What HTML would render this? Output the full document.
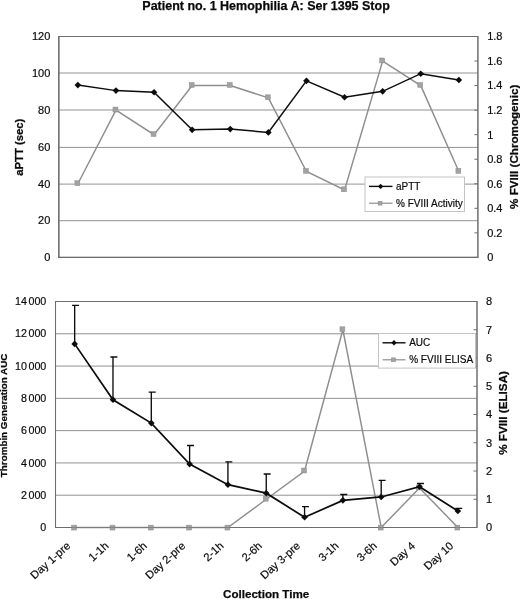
<!DOCTYPE html>
<html lang="en"><head><meta charset="utf-8"><title>Patient no. 1 Hemophilia A: Ser 1395 Stop</title>
<style>
html,body{margin:0;padding:0;background:#fff;}
body{width:520px;height:599px;overflow:hidden;font-family:"Liberation Sans",Arial,Helvetica,sans-serif;}
svg{display:block;}
</style></head><body>
<svg width="520" height="599" viewBox="0 0 520 599">
<rect width="520" height="599" fill="#fff"/>
<g>
<line x1="58.0" y1="257.40" x2="477.9" y2="257.40" stroke="#929292" stroke-width="1"/>
<line x1="58.0" y1="220.70" x2="477.9" y2="220.70" stroke="#929292" stroke-width="1"/>
<line x1="58.0" y1="184.10" x2="477.9" y2="184.10" stroke="#929292" stroke-width="1"/>
<line x1="58.0" y1="147.40" x2="477.9" y2="147.40" stroke="#929292" stroke-width="1"/>
<line x1="58.0" y1="110.00" x2="477.9" y2="110.00" stroke="#929292" stroke-width="1"/>
<line x1="58.0" y1="73.00" x2="477.9" y2="73.00" stroke="#929292" stroke-width="1"/>
<line x1="58.0" y1="36.50" x2="477.9" y2="36.50" stroke="#929292" stroke-width="1"/>
<line x1="58.8" y1="36.5" x2="477.9" y2="36.5" stroke="#6e6e6e" stroke-width="1.05"/>
<line x1="58.849999999999994" y1="36.0" x2="58.849999999999994" y2="257.9" stroke="#6e6e6e" stroke-width="1.6"/>
<line x1="477.9" y1="36.0" x2="477.9" y2="257.9" stroke="#6e6e6e" stroke-width="1.5"/>
<line x1="58.8" y1="257.4" x2="477.9" y2="257.4" stroke="#6e6e6e" stroke-width="1.15"/>
<line x1="474.4" y1="257.40" x2="477.9" y2="257.40" stroke="#6e6e6e" stroke-width="1"/>
<line x1="474.4" y1="232.86" x2="477.9" y2="232.86" stroke="#6e6e6e" stroke-width="1"/>
<line x1="474.4" y1="208.31" x2="477.9" y2="208.31" stroke="#6e6e6e" stroke-width="1"/>
<line x1="474.4" y1="183.77" x2="477.9" y2="183.77" stroke="#6e6e6e" stroke-width="1"/>
<line x1="474.4" y1="159.22" x2="477.9" y2="159.22" stroke="#6e6e6e" stroke-width="1"/>
<line x1="474.4" y1="134.68" x2="477.9" y2="134.68" stroke="#6e6e6e" stroke-width="1"/>
<line x1="474.4" y1="110.13" x2="477.9" y2="110.13" stroke="#6e6e6e" stroke-width="1"/>
<line x1="474.4" y1="85.59" x2="477.9" y2="85.59" stroke="#6e6e6e" stroke-width="1"/>
<line x1="474.4" y1="61.04" x2="477.9" y2="61.04" stroke="#6e6e6e" stroke-width="1"/>
<line x1="474.4" y1="36.50" x2="477.9" y2="36.50" stroke="#6e6e6e" stroke-width="1"/>
<polyline points="77.85,183.77 115.95,110.13 154.05,134.68 192.15,85.59 230.25,85.59 268.35,97.86 306.45,171.49 344.55,189.90 382.65,61.04 420.75,85.59 458.85,171.49" fill="none" stroke="#8e8e8e" stroke-width="1.45"/>
<rect x="74.90" y="180.72" width="4.9" height="4.9" fill="#a2a2a2" stroke="#8c8c8c" stroke-width="0.5"/>
<rect x="113.00" y="107.08" width="4.9" height="4.9" fill="#a2a2a2" stroke="#8c8c8c" stroke-width="0.5"/>
<rect x="151.10" y="131.63" width="4.9" height="4.9" fill="#a2a2a2" stroke="#8c8c8c" stroke-width="0.5"/>
<rect x="189.20" y="82.54" width="4.9" height="4.9" fill="#a2a2a2" stroke="#8c8c8c" stroke-width="0.5"/>
<rect x="227.30" y="82.54" width="4.9" height="4.9" fill="#a2a2a2" stroke="#8c8c8c" stroke-width="0.5"/>
<rect x="265.40" y="94.81" width="4.9" height="4.9" fill="#a2a2a2" stroke="#8c8c8c" stroke-width="0.5"/>
<rect x="303.50" y="168.44" width="4.9" height="4.9" fill="#a2a2a2" stroke="#8c8c8c" stroke-width="0.5"/>
<rect x="341.60" y="186.85" width="4.9" height="4.9" fill="#a2a2a2" stroke="#8c8c8c" stroke-width="0.5"/>
<rect x="379.70" y="57.99" width="4.9" height="4.9" fill="#a2a2a2" stroke="#8c8c8c" stroke-width="0.5"/>
<rect x="417.80" y="82.54" width="4.9" height="4.9" fill="#a2a2a2" stroke="#8c8c8c" stroke-width="0.5"/>
<rect x="455.90" y="168.44" width="4.9" height="4.9" fill="#a2a2a2" stroke="#8c8c8c" stroke-width="0.5"/>
<polyline points="77.85,85.10 115.95,90.62 154.05,92.28 192.15,129.83 230.25,129.09 268.35,132.41 306.45,80.86 344.55,97.25 382.65,91.36 420.75,73.68 458.85,79.94" fill="none" stroke="#0c0c0c" stroke-width="1.5"/>
<path d="M77.85 81.80L81.15 85.10L77.85 88.40L74.55 85.10Z" fill="#0c0c0c"/>
<path d="M115.95 87.32L119.25 90.62L115.95 93.92L112.65 90.62Z" fill="#0c0c0c"/>
<path d="M154.05 88.98L157.35 92.28L154.05 95.58L150.75 92.28Z" fill="#0c0c0c"/>
<path d="M192.15 126.53L195.45 129.83L192.15 133.13L188.85 129.83Z" fill="#0c0c0c"/>
<path d="M230.25 125.79L233.55 129.09L230.25 132.39L226.95 129.09Z" fill="#0c0c0c"/>
<path d="M268.35 129.11L271.65 132.41L268.35 135.71L265.05 132.41Z" fill="#0c0c0c"/>
<path d="M306.45 77.56L309.75 80.86L306.45 84.16L303.15 80.86Z" fill="#0c0c0c"/>
<path d="M344.55 93.95L347.85 97.25L344.55 100.55L341.25 97.25Z" fill="#0c0c0c"/>
<path d="M382.65 88.06L385.95 91.36L382.65 94.66L379.35 91.36Z" fill="#0c0c0c"/>
<path d="M420.75 70.38L424.05 73.68L420.75 76.98L417.45 73.68Z" fill="#0c0c0c"/>
<path d="M458.85 76.64L462.15 79.94L458.85 83.24L455.55 79.94Z" fill="#0c0c0c"/>
<rect x="365" y="177" width="99.5" height="34.5" fill="#fff" stroke="#c4c4c4" stroke-width="1"/>
<line x1="369" y1="186.4" x2="392.5" y2="186.4" stroke="#0c0c0c" stroke-width="1.4"/><path d="M380.60 183.70L383.30 186.40L380.60 189.10L377.90 186.40Z" fill="#0c0c0c"/>
<line x1="369" y1="203.2" x2="392.5" y2="203.2" stroke="#8e8e8e" stroke-width="1.2"/><rect x="378.15" y="201.25" width="3.9000000000000004" height="3.9000000000000004" fill="#a2a2a2" stroke="#8c8c8c" stroke-width="0.5"/>
<text x="396" y="190.0" font-family="Liberation Sans, Arial, Helvetica, sans-serif" font-size="10" fill="#0a0a0a" stroke="#0a0a0a" stroke-width="0.18">aPTT</text>
<text x="396" y="206.8" font-family="Liberation Sans, Arial, Helvetica, sans-serif" font-size="10" fill="#0a0a0a" stroke="#0a0a0a" stroke-width="0.18">% FVIII Activity</text>
<text x="50.3" y="261.30" text-anchor="end" font-family="Liberation Sans, Arial, Helvetica, sans-serif" font-size="11" fill="#0a0a0a" stroke="#0a0a0a" stroke-width="0.18">0</text>
<text x="50.3" y="224.48" text-anchor="end" font-family="Liberation Sans, Arial, Helvetica, sans-serif" font-size="11" fill="#0a0a0a" stroke="#0a0a0a" stroke-width="0.18">20</text>
<text x="50.3" y="187.67" text-anchor="end" font-family="Liberation Sans, Arial, Helvetica, sans-serif" font-size="11" fill="#0a0a0a" stroke="#0a0a0a" stroke-width="0.18">40</text>
<text x="50.3" y="150.85" text-anchor="end" font-family="Liberation Sans, Arial, Helvetica, sans-serif" font-size="11" fill="#0a0a0a" stroke="#0a0a0a" stroke-width="0.18">60</text>
<text x="50.3" y="114.03" text-anchor="end" font-family="Liberation Sans, Arial, Helvetica, sans-serif" font-size="11" fill="#0a0a0a" stroke="#0a0a0a" stroke-width="0.18">80</text>
<text x="50.3" y="77.22" text-anchor="end" font-family="Liberation Sans, Arial, Helvetica, sans-serif" font-size="11" fill="#0a0a0a" stroke="#0a0a0a" stroke-width="0.18">100</text>
<text x="50.3" y="40.40" text-anchor="end" font-family="Liberation Sans, Arial, Helvetica, sans-serif" font-size="11" fill="#0a0a0a" stroke="#0a0a0a" stroke-width="0.18">120</text>
<text x="487.2" y="261.30" font-family="Liberation Sans, Arial, Helvetica, sans-serif" font-size="11" fill="#0a0a0a" stroke="#0a0a0a" stroke-width="0.18">0</text>
<text x="487.2" y="236.76" font-family="Liberation Sans, Arial, Helvetica, sans-serif" font-size="11" fill="#0a0a0a" stroke="#0a0a0a" stroke-width="0.18">0.2</text>
<text x="487.2" y="212.21" font-family="Liberation Sans, Arial, Helvetica, sans-serif" font-size="11" fill="#0a0a0a" stroke="#0a0a0a" stroke-width="0.18">0.4</text>
<text x="487.2" y="187.67" font-family="Liberation Sans, Arial, Helvetica, sans-serif" font-size="11" fill="#0a0a0a" stroke="#0a0a0a" stroke-width="0.18">0.6</text>
<text x="487.2" y="163.12" font-family="Liberation Sans, Arial, Helvetica, sans-serif" font-size="11" fill="#0a0a0a" stroke="#0a0a0a" stroke-width="0.18">0.8</text>
<text x="487.2" y="138.58" font-family="Liberation Sans, Arial, Helvetica, sans-serif" font-size="11" fill="#0a0a0a" stroke="#0a0a0a" stroke-width="0.18">1</text>
<text x="487.2" y="114.03" font-family="Liberation Sans, Arial, Helvetica, sans-serif" font-size="11" fill="#0a0a0a" stroke="#0a0a0a" stroke-width="0.18">1.2</text>
<text x="487.2" y="89.49" font-family="Liberation Sans, Arial, Helvetica, sans-serif" font-size="11" fill="#0a0a0a" stroke="#0a0a0a" stroke-width="0.18">1.4</text>
<text x="487.2" y="64.94" font-family="Liberation Sans, Arial, Helvetica, sans-serif" font-size="11" fill="#0a0a0a" stroke="#0a0a0a" stroke-width="0.18">1.6</text>
<text x="487.2" y="40.40" font-family="Liberation Sans, Arial, Helvetica, sans-serif" font-size="11" fill="#0a0a0a" stroke="#0a0a0a" stroke-width="0.18">1.8</text>
<text transform="translate(23,147.2) rotate(-90)" text-anchor="middle" font-family="Liberation Sans, Arial, Helvetica, sans-serif" font-size="11.3" font-weight="bold" fill="#0a0a0a" stroke="#0a0a0a" stroke-width="0.25">aPTT (sec)</text>
<text transform="translate(517.6,146.8) rotate(-90)" text-anchor="middle" font-family="Liberation Sans, Arial, Helvetica, sans-serif" font-size="11.65" font-weight="bold" fill="#0a0a0a" stroke="#0a0a0a" stroke-width="0.25">% FVIII (Chromogenic)</text>
</g>
<text x="142.3" y="9.6" font-family="Liberation Sans, Arial, Helvetica, sans-serif" font-size="12.5" font-weight="bold" fill="#0a0a0a" stroke="#0a0a0a" stroke-width="0.25">Patient no. 1 Hemophilia A: Ser 1395 Stop</text>
<g>
<line x1="55.5" y1="527.50" x2="477.0" y2="527.50" stroke="#929292" stroke-width="1"/>
<line x1="55.5" y1="495.21" x2="477.0" y2="495.21" stroke="#929292" stroke-width="1"/>
<line x1="55.5" y1="462.93" x2="477.0" y2="462.93" stroke="#929292" stroke-width="1"/>
<line x1="55.5" y1="430.64" x2="477.0" y2="430.64" stroke="#929292" stroke-width="1"/>
<line x1="55.5" y1="398.36" x2="477.0" y2="398.36" stroke="#929292" stroke-width="1"/>
<line x1="55.5" y1="366.07" x2="477.0" y2="366.07" stroke="#929292" stroke-width="1"/>
<line x1="55.5" y1="333.79" x2="477.0" y2="333.79" stroke="#929292" stroke-width="1"/>
<line x1="55.5" y1="301.50" x2="477.0" y2="301.50" stroke="#929292" stroke-width="1"/>
<line x1="55.5" y1="301.5" x2="477.0" y2="301.5" stroke="#6e6e6e" stroke-width="1.05"/>
<line x1="55.5" y1="301.0" x2="55.5" y2="528.0" stroke="#6e6e6e" stroke-width="1.1"/>
<line x1="477.0" y1="301.0" x2="477.0" y2="528.0" stroke="#6e6e6e" stroke-width="1.5"/>
<line x1="55.5" y1="527.5" x2="477.0" y2="527.5" stroke="#6e6e6e" stroke-width="1.15"/>
<line x1="473.5" y1="527.50" x2="477.0" y2="527.50" stroke="#6e6e6e" stroke-width="1"/>
<line x1="473.5" y1="499.25" x2="477.0" y2="499.25" stroke="#6e6e6e" stroke-width="1"/>
<line x1="473.5" y1="471.00" x2="477.0" y2="471.00" stroke="#6e6e6e" stroke-width="1"/>
<line x1="473.5" y1="442.75" x2="477.0" y2="442.75" stroke="#6e6e6e" stroke-width="1"/>
<line x1="473.5" y1="414.50" x2="477.0" y2="414.50" stroke="#6e6e6e" stroke-width="1"/>
<line x1="473.5" y1="386.25" x2="477.0" y2="386.25" stroke="#6e6e6e" stroke-width="1"/>
<line x1="473.5" y1="358.00" x2="477.0" y2="358.00" stroke="#6e6e6e" stroke-width="1"/>
<line x1="473.5" y1="329.75" x2="477.0" y2="329.75" stroke="#6e6e6e" stroke-width="1"/>
<line x1="473.5" y1="301.50" x2="477.0" y2="301.50" stroke="#6e6e6e" stroke-width="1"/>
<rect x="378.5" y="333.5" width="97.0" height="34.6" fill="#fff" stroke="#c4c4c4" stroke-width="1"/>
<line x1="382.5" y1="342.8" x2="405.5" y2="342.8" stroke="#0c0c0c" stroke-width="1.4"/><path d="M394.00 340.10L396.70 342.80L394.00 345.50L391.30 342.80Z" fill="#0c0c0c"/>
<line x1="382.5" y1="359.8" x2="405.5" y2="359.8" stroke="#8e8e8e" stroke-width="1.2"/><rect x="391.55" y="357.85" width="3.9000000000000004" height="3.9000000000000004" fill="#a2a2a2" stroke="#8c8c8c" stroke-width="0.5"/>
<text x="409.2" y="346.4" font-family="Liberation Sans, Arial, Helvetica, sans-serif" font-size="10" fill="#0a0a0a" stroke="#0a0a0a" stroke-width="0.18">AUC</text>
<text x="409.2" y="363.4" font-family="Liberation Sans, Arial, Helvetica, sans-serif" font-size="10" fill="#0a0a0a" stroke="#0a0a0a" stroke-width="0.18">% FVIII ELISA</text>
<polyline points="74.66,527.50 112.98,527.50 151.30,527.50 189.61,527.50 227.93,527.50 266.25,499.25 304.57,471.00 342.89,329.75 381.20,527.50 419.52,487.95 457.84,527.50" fill="none" stroke="#8e8e8e" stroke-width="1.45"/>
<rect x="71.71" y="525.15" width="4.9" height="4.9" fill="#a2a2a2" stroke="#8c8c8c" stroke-width="0.5"/>
<rect x="110.03" y="525.15" width="4.9" height="4.9" fill="#a2a2a2" stroke="#8c8c8c" stroke-width="0.5"/>
<rect x="148.35" y="525.15" width="4.9" height="4.9" fill="#a2a2a2" stroke="#8c8c8c" stroke-width="0.5"/>
<rect x="186.66" y="525.15" width="4.9" height="4.9" fill="#a2a2a2" stroke="#8c8c8c" stroke-width="0.5"/>
<rect x="224.98" y="525.15" width="4.9" height="4.9" fill="#a2a2a2" stroke="#8c8c8c" stroke-width="0.5"/>
<rect x="263.30" y="496.30" width="4.9" height="4.9" fill="#a2a2a2" stroke="#8c8c8c" stroke-width="0.5"/>
<rect x="301.62" y="468.05" width="4.9" height="4.9" fill="#a2a2a2" stroke="#8c8c8c" stroke-width="0.5"/>
<rect x="339.94" y="326.80" width="4.9" height="4.9" fill="#a2a2a2" stroke="#8c8c8c" stroke-width="0.5"/>
<rect x="378.25" y="525.15" width="4.9" height="4.9" fill="#a2a2a2" stroke="#8c8c8c" stroke-width="0.5"/>
<rect x="416.57" y="485.00" width="4.9" height="4.9" fill="#a2a2a2" stroke="#8c8c8c" stroke-width="0.5"/>
<rect x="454.89" y="525.15" width="4.9" height="4.9" fill="#a2a2a2" stroke="#8c8c8c" stroke-width="0.5"/>
<line x1="55.5" y1="527.5" x2="477.0" y2="527.5" stroke="#6e6e6e" stroke-width="1.0" opacity="0.55"/>
<path d="M74.66 343.89V305.36M72.06 305.36H79.06" fill="none" stroke="#0c0c0c" stroke-width="1.35"/>
<path d="M112.98 399.76V357.02M110.38 357.02H117.38" fill="none" stroke="#0c0c0c" stroke-width="1.35"/>
<path d="M151.30 423.09V392.16M148.70 392.16H155.70" fill="none" stroke="#0c0c0c" stroke-width="1.35"/>
<path d="M189.61 464.12V445.51M187.01 445.51H194.01" fill="none" stroke="#0c0c0c" stroke-width="1.35"/>
<path d="M227.93 484.66V461.83M225.33 461.83H232.33" fill="none" stroke="#0c0c0c" stroke-width="1.35"/>
<path d="M266.25 493.16V474.03M263.65 474.03H270.65" fill="none" stroke="#0c0c0c" stroke-width="1.35"/>
<path d="M304.57 517.28V506.68M301.97 506.68H308.97" fill="none" stroke="#0c0c0c" stroke-width="1.35"/>
<path d="M342.89 500.36V494.46M340.29 494.46H347.29" fill="none" stroke="#0c0c0c" stroke-width="1.35"/>
<path d="M381.20 496.96V480.44M378.60 480.44H385.60" fill="none" stroke="#0c0c0c" stroke-width="1.35"/>
<path d="M419.52 486.76V483.45M416.92 483.45H423.92" fill="none" stroke="#0c0c0c" stroke-width="1.35"/>
<path d="M457.84 510.99V508.37M455.24 508.37H462.24" fill="none" stroke="#0c0c0c" stroke-width="1.35"/>
<polyline points="74.66,343.89 112.98,399.76 151.30,423.09 189.61,464.12 227.93,484.66 266.25,493.16 304.57,517.28 342.89,500.36 381.20,496.96 419.52,486.76 457.84,510.99" fill="none" stroke="#0c0c0c" stroke-width="1.7"/>
<path d="M74.66 340.59L77.96 343.89L74.66 347.19L71.36 343.89Z" fill="#0c0c0c"/>
<path d="M112.98 396.46L116.28 399.76L112.98 403.06L109.68 399.76Z" fill="#0c0c0c"/>
<path d="M151.30 419.79L154.60 423.09L151.30 426.39L148.00 423.09Z" fill="#0c0c0c"/>
<path d="M189.61 460.82L192.91 464.12L189.61 467.42L186.31 464.12Z" fill="#0c0c0c"/>
<path d="M227.93 481.36L231.23 484.66L227.93 487.96L224.63 484.66Z" fill="#0c0c0c"/>
<path d="M266.25 489.86L269.55 493.16L266.25 496.46L262.95 493.16Z" fill="#0c0c0c"/>
<path d="M304.57 513.98L307.87 517.28L304.57 520.58L301.27 517.28Z" fill="#0c0c0c"/>
<path d="M342.89 497.06L346.19 500.36L342.89 503.66L339.59 500.36Z" fill="#0c0c0c"/>
<path d="M381.20 493.66L384.50 496.96L381.20 500.26L377.90 496.96Z" fill="#0c0c0c"/>
<path d="M419.52 483.46L422.82 486.76L419.52 490.06L416.22 486.76Z" fill="#0c0c0c"/>
<path d="M457.84 507.69L461.14 510.99L457.84 514.29L454.54 510.99Z" fill="#0c0c0c"/>
<text x="46.3" y="531.10" text-anchor="end" font-family="Liberation Sans, Arial, Helvetica, sans-serif" font-size="10.7" fill="#0a0a0a" stroke="#0a0a0a" stroke-width="0.18">0</text>
<text x="46.3" y="498.81" text-anchor="end" font-family="Liberation Sans, Arial, Helvetica, sans-serif" font-size="10.7" fill="#0a0a0a" stroke="#0a0a0a" stroke-width="0.18">2<tspan dx="1.6">000</tspan></text>
<text x="46.3" y="466.53" text-anchor="end" font-family="Liberation Sans, Arial, Helvetica, sans-serif" font-size="10.7" fill="#0a0a0a" stroke="#0a0a0a" stroke-width="0.18">4<tspan dx="1.6">000</tspan></text>
<text x="46.3" y="434.24" text-anchor="end" font-family="Liberation Sans, Arial, Helvetica, sans-serif" font-size="10.7" fill="#0a0a0a" stroke="#0a0a0a" stroke-width="0.18">6<tspan dx="1.6">000</tspan></text>
<text x="46.3" y="401.96" text-anchor="end" font-family="Liberation Sans, Arial, Helvetica, sans-serif" font-size="10.7" fill="#0a0a0a" stroke="#0a0a0a" stroke-width="0.18">8<tspan dx="1.6">000</tspan></text>
<text x="46.3" y="369.67" text-anchor="end" font-family="Liberation Sans, Arial, Helvetica, sans-serif" font-size="10.7" fill="#0a0a0a" stroke="#0a0a0a" stroke-width="0.18">10<tspan dx="1.6">000</tspan></text>
<text x="46.3" y="337.39" text-anchor="end" font-family="Liberation Sans, Arial, Helvetica, sans-serif" font-size="10.7" fill="#0a0a0a" stroke="#0a0a0a" stroke-width="0.18">12<tspan dx="1.6">000</tspan></text>
<text x="46.3" y="305.10" text-anchor="end" font-family="Liberation Sans, Arial, Helvetica, sans-serif" font-size="10.7" fill="#0a0a0a" stroke="#0a0a0a" stroke-width="0.18">14<tspan dx="1.6">000</tspan></text>
<text x="486" y="531.40" font-family="Liberation Sans, Arial, Helvetica, sans-serif" font-size="11" fill="#0a0a0a" stroke="#0a0a0a" stroke-width="0.18">0</text>
<text x="486" y="503.15" font-family="Liberation Sans, Arial, Helvetica, sans-serif" font-size="11" fill="#0a0a0a" stroke="#0a0a0a" stroke-width="0.18">1</text>
<text x="486" y="474.90" font-family="Liberation Sans, Arial, Helvetica, sans-serif" font-size="11" fill="#0a0a0a" stroke="#0a0a0a" stroke-width="0.18">2</text>
<text x="486" y="446.65" font-family="Liberation Sans, Arial, Helvetica, sans-serif" font-size="11" fill="#0a0a0a" stroke="#0a0a0a" stroke-width="0.18">3</text>
<text x="486" y="418.40" font-family="Liberation Sans, Arial, Helvetica, sans-serif" font-size="11" fill="#0a0a0a" stroke="#0a0a0a" stroke-width="0.18">4</text>
<text x="486" y="390.15" font-family="Liberation Sans, Arial, Helvetica, sans-serif" font-size="11" fill="#0a0a0a" stroke="#0a0a0a" stroke-width="0.18">5</text>
<text x="486" y="361.90" font-family="Liberation Sans, Arial, Helvetica, sans-serif" font-size="11" fill="#0a0a0a" stroke="#0a0a0a" stroke-width="0.18">6</text>
<text x="486" y="333.65" font-family="Liberation Sans, Arial, Helvetica, sans-serif" font-size="11" fill="#0a0a0a" stroke="#0a0a0a" stroke-width="0.18">7</text>
<text x="486" y="305.40" font-family="Liberation Sans, Arial, Helvetica, sans-serif" font-size="11" fill="#0a0a0a" stroke="#0a0a0a" stroke-width="0.18">8</text>
<text transform="translate(7.1,415.4) rotate(-90)" text-anchor="middle" font-family="Liberation Sans, Arial, Helvetica, sans-serif" font-size="9.83" font-weight="bold" fill="#0a0a0a" stroke="#0a0a0a" stroke-width="0.25">Thrombin Generation AUC</text>
<text transform="translate(507.2,412.9) rotate(-90)" text-anchor="middle" font-family="Liberation Sans, Arial, Helvetica, sans-serif" font-size="11.7" font-weight="bold" fill="#0a0a0a" stroke="#0a0a0a" stroke-width="0.25">% FVIII (ELISA)</text>
<text transform="translate(71.06,546.9) rotate(-42)" text-anchor="end" font-family="Liberation Sans, Arial, Helvetica, sans-serif" font-size="11.2" fill="#0a0a0a" stroke="#0a0a0a" stroke-width="0.18">Day 1-pre</text>
<text transform="translate(109.38,546.9) rotate(-42)" text-anchor="end" font-family="Liberation Sans, Arial, Helvetica, sans-serif" font-size="11.2" fill="#0a0a0a" stroke="#0a0a0a" stroke-width="0.18">1-1h</text>
<text transform="translate(147.70,546.9) rotate(-42)" text-anchor="end" font-family="Liberation Sans, Arial, Helvetica, sans-serif" font-size="11.2" fill="#0a0a0a" stroke="#0a0a0a" stroke-width="0.18">1-6h</text>
<text transform="translate(186.01,546.9) rotate(-42)" text-anchor="end" font-family="Liberation Sans, Arial, Helvetica, sans-serif" font-size="11.2" fill="#0a0a0a" stroke="#0a0a0a" stroke-width="0.18">Day 2-pre</text>
<text transform="translate(224.33,546.9) rotate(-42)" text-anchor="end" font-family="Liberation Sans, Arial, Helvetica, sans-serif" font-size="11.2" fill="#0a0a0a" stroke="#0a0a0a" stroke-width="0.18">2-1h</text>
<text transform="translate(262.65,546.9) rotate(-42)" text-anchor="end" font-family="Liberation Sans, Arial, Helvetica, sans-serif" font-size="11.2" fill="#0a0a0a" stroke="#0a0a0a" stroke-width="0.18">2-6h</text>
<text transform="translate(300.97,546.9) rotate(-42)" text-anchor="end" font-family="Liberation Sans, Arial, Helvetica, sans-serif" font-size="11.2" fill="#0a0a0a" stroke="#0a0a0a" stroke-width="0.18">Day 3-pre</text>
<text transform="translate(339.29,546.9) rotate(-42)" text-anchor="end" font-family="Liberation Sans, Arial, Helvetica, sans-serif" font-size="11.2" fill="#0a0a0a" stroke="#0a0a0a" stroke-width="0.18">3-1h</text>
<text transform="translate(377.60,546.9) rotate(-42)" text-anchor="end" font-family="Liberation Sans, Arial, Helvetica, sans-serif" font-size="11.2" fill="#0a0a0a" stroke="#0a0a0a" stroke-width="0.18">3-6h</text>
<text transform="translate(415.92,546.9) rotate(-42)" text-anchor="end" font-family="Liberation Sans, Arial, Helvetica, sans-serif" font-size="11.2" fill="#0a0a0a" stroke="#0a0a0a" stroke-width="0.18">Day 4</text>
<text transform="translate(454.24,546.9) rotate(-42)" text-anchor="end" font-family="Liberation Sans, Arial, Helvetica, sans-serif" font-size="11.2" fill="#0a0a0a" stroke="#0a0a0a" stroke-width="0.18">Day 10</text>
<text x="266.1" y="598" text-anchor="middle" font-family="Liberation Sans, Arial, Helvetica, sans-serif" font-size="11.6" font-weight="bold" fill="#0a0a0a" stroke="#0a0a0a" stroke-width="0.25">Collection Time</text>
</g>
</svg>
</body></html>
